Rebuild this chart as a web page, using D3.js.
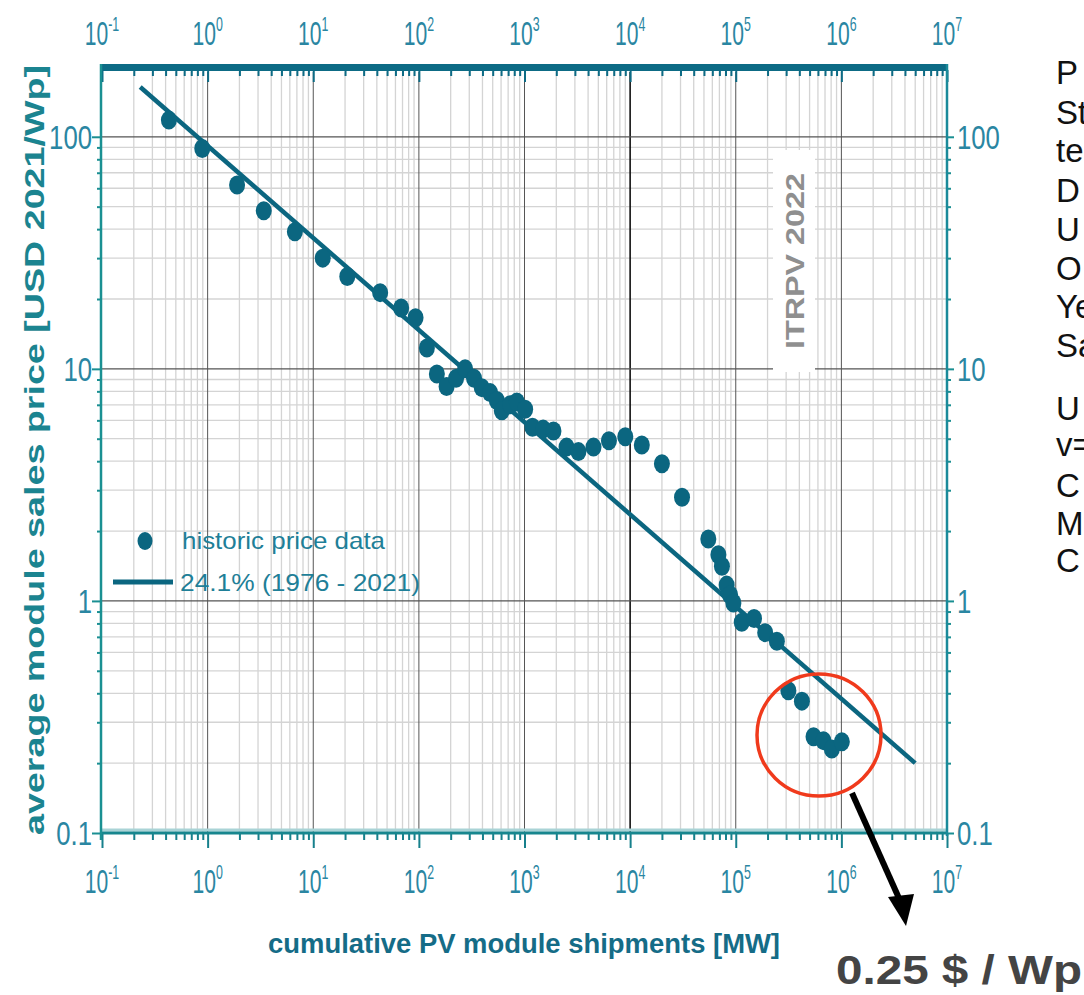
<!DOCTYPE html>
<html>
<head>
<meta charset="utf-8">
<script src="https://cdn.jsdelivr.net/npm/d3@7"></script>
<style>
  html, body { margin: 0; padding: 0; background: #fff; overflow: hidden; }
  svg { display: block; }
</style>
</head>
<body>
<div id="chart"></div>
<script>
// historic price points: cumulative shipments [MW] and price [USD 2021/Wp]
const shipments = [0.43, 0.89, 1.9, 3.4, 6.7, 12.3, 21, 43, 68, 93, 119, 148, 183, 225, 274, 333, 394,
  472, 547, 610, 731, 846, 1014, 1190, 1500, 1880, 2500, 3240, 4500, 6300, 9000, 12900, 20000, 31000,
  55000, 68500, 74000, 82000, 88500, 95000, 114000, 149000, 190000, 245000, 315000, 423000, 545000,
  676000, 812000, 1010000];
const prices = [118, 89, 62, 48, 39, 30, 25, 21.3, 18.3, 16.6, 12.3, 9.5, 8.4, 9.1, 10.0, 9.1, 8.3,
  7.9, 7.3, 6.6, 7.0, 7.2, 6.7, 5.6, 5.5, 5.4, 4.6, 4.4, 4.6, 4.9, 5.1, 4.7, 3.9, 2.8,
  1.85, 1.58, 1.41, 1.17, 1.06, 0.98, 0.81, 0.84, 0.73, 0.67, 0.41, 0.37, 0.26,
  0.25, 0.23, 0.247];

// learning curve fit, 24.1 % (1976 - 2021)
const fitShipments = [0.23, 5000000];
const fitPrices = [164, 0.2];

const xExponents = [-1, 0, 1, 2, 3, 4, 5, 6, 7];
const yTickValues = [0.1, 1, 10, 100];
const yTickLabels = ["0.1", "1", "10", "100"];
const legendLabels = ["historic price data", "24.1% (1976 - 2021)"];
const sideText = ["P", "St", "te", "D", "U", "O", "Ye", "Sa", "U", "v=", "C", "M", "C"];
const sideBaselines = [84, 124, 162, 202, 241, 280, 318, 357, 420, 456, 497, 535, 572];

const W = 1084, H = 995;
const dark = "#0b6680";
const tickBlue = "#2a86a2";

const svg = d3.select("#chart").append("svg")
  .attr("width", W).attr("height", H)
  .style("font-family", "'Liberation Sans', Arial, sans-serif");

const x = d3.scaleLog().domain([0.1, 1e7]).range([102, 947]);
const y = d3.scaleLog().domain([0.1, 194]).range([833, 70]);

const xMajor = xExponents.map(e => Math.pow(10, e));
const xMinor = d3.range(-1, 7).flatMap(e => d3.range(2, 10).map(m => m * Math.pow(10, e)));
const yMinor = d3.range(-1, 2).flatMap(e => d3.range(2, 10).map(m => m * Math.pow(10, e)));

// grid
const grid = svg.append("g");
grid.selectAll(".vmin").data(xMinor).join("line")
  .attr("x1", d => x(d)).attr("x2", d => x(d))
  .attr("y1", 72).attr("y2", 833)
  .attr("stroke", "#d4d4d4").attr("stroke-width", 1.3);
grid.selectAll(".hmin").data(yMinor).join("line")
  .attr("x1", 102).attr("x2", 947)
  .attr("y1", d => y(d)).attr("y2", d => y(d))
  .attr("stroke", "#d4d4d4").attr("stroke-width", 1.3);
grid.selectAll(".vmaj").data(xMajor.slice(1, -1)).join("line")
  .attr("x1", d => x(d)).attr("x2", d => x(d))
  .attr("y1", 72).attr("y2", 833)
  .attr("stroke", d => d === 1e4 ? "#111" : "#555")
  .attr("stroke-width", d => d === 1e4 ? 1.6 : 1);
grid.selectAll(".hmaj").data(yTickValues.slice(1)).join("line")
  .attr("x1", 102).attr("x2", 947)
  .attr("y1", d => y(d)).attr("y2", d => y(d))
  .attr("stroke", "#555").attr("stroke-width", 1.2);

// ITRPV stamp
svg.append("rect").attr("x", 773).attr("y", 150).attr("width", 42).attr("height", 222).attr("fill", "#fff");
svg.append("text")
  .attr("transform", "translate(804,261) rotate(-90)")
  .attr("text-anchor", "middle").attr("font-weight", "bold")
  .attr("font-size", 25).attr("fill", "#8f8f8f")
  .attr("textLength", 176).attr("lengthAdjust", "spacingAndGlyphs")
  .text("ITRPV 2022");

// fit line
svg.append("path")
  .datum(d3.zip(fitShipments, fitPrices))
  .attr("d", d3.line().x(d => x(d[0])).y(d => y(d[1])))
  .attr("fill", "none").attr("stroke", dark).attr("stroke-width", 4.5);

// data points
svg.selectAll(".pt").data(d3.zip(shipments, prices)).join("ellipse")
  .attr("cx", d => x(d[0])).attr("cy", d => y(d[1]))
  .attr("rx", 8).attr("ry", 9.5)
  .attr("fill", dark);

// legend
svg.append("ellipse").attr("cx", 145).attr("cy", 541).attr("rx", 7.5).attr("ry", 9).attr("fill", dark);
svg.append("line").attr("x1", 113).attr("x2", 173).attr("y1", 582).attr("y2", 582)
  .attr("stroke", dark).attr("stroke-width", 5);
svg.selectAll(".leg").data(legendLabels).join("text")
  .attr("x", (d, i) => i ? 180 : 182)
  .attr("y", (d, i) => i ? 591 : 549)
  .attr("font-size", 24).attr("fill", "#1f7f98")
  .attr("textLength", (d, i) => i ? 240 : 203).attr("lengthAdjust", "spacingAndGlyphs")
  .text(d => d);

// top axis bar with hanging ticks
svg.append("rect").attr("x", 100).attr("y", 64).attr("width", 848).attr("height", 7).attr("fill", "#0d6b85");
const topMinor = svg.append("g").attr("transform", "translate(0,70)")
  .call(d3.axisTop(x).tickValues(xMinor).tickSize(-6).tickFormat(""));
const topMajor = svg.append("g").attr("transform", "translate(0,70)")
  .call(d3.axisTop(x).tickValues(xMajor).tickSize(-12).tickFormat(""));
[topMinor, topMajor].forEach(g => {
  g.select(".domain").remove();
  g.selectAll("line").attr("stroke", "#0d6b85").attr("stroke-width", 2);
});

// bottom axis
svg.append("line").attr("x1", 100).attr("x2", 948).attr("y1", 830).attr("y2", 830)
  .attr("stroke", "#a9d3d6").attr("stroke-width", 3);
const botMinor = svg.append("g").attr("transform", "translate(0,833)")
  .call(d3.axisBottom(x).tickValues(xMinor).tickSize(7).tickFormat(""));
const botMajor = svg.append("g").attr("transform", "translate(0,833)")
  .call(d3.axisBottom(x).tickValues(xMajor).tickSize(15).tickFormat(""));
[botMinor, botMajor].forEach(g => {
  g.select(".domain").remove();
  g.selectAll("line").attr("stroke", "#17808c").attr("stroke-width", 2);
});
svg.append("line").attr("x1", 100).attr("x2", 948).attr("y1", 833).attr("y2", 833)
  .attr("stroke", "#17868e").attr("stroke-width", 3);

// left and right axes
const leftMinor = svg.append("g").attr("transform", "translate(101,0)")
  .call(d3.axisLeft(y).tickValues(yMinor).tickSize(4).tickFormat(""));
const leftMajor = svg.append("g").attr("transform", "translate(101,0)")
  .call(d3.axisLeft(y).tickValues(yTickValues).tickSize(9).tickFormat(""));
const rightMinor = svg.append("g").attr("transform", "translate(947,0)")
  .call(d3.axisRight(y).tickValues(yMinor).tickSize(4).tickFormat(""));
const rightMajor = svg.append("g").attr("transform", "translate(947,0)")
  .call(d3.axisRight(y).tickValues(yTickValues).tickSize(7).tickFormat(""));
[leftMinor, leftMajor, rightMinor, rightMajor].forEach(g => {
  g.select(".domain").remove();
  g.selectAll("line").attr("stroke", "#1a8f92").attr("stroke-width", 2);
});
svg.append("line").attr("x1", 101).attr("x2", 101).attr("y1", 64).attr("y2", 840)
  .attr("stroke", "#1a9092").attr("stroke-width", 2.5);
svg.append("line").attr("x1", 947).attr("x2", 947).attr("y1", 64).attr("y2", 836)
  .attr("stroke", "#1a8a9a").attr("stroke-width", 2.5);

// x tick labels, top and bottom (condensed)
[45, 893].forEach(base => {
  const lab = svg.append("g").selectAll("g").data(xExponents).join("g")
    .attr("transform", e => `translate(${x(Math.pow(10, e))},${base}) scale(0.62,1)`);
  const t = lab.append("text").attr("text-anchor", "middle").attr("fill", tickBlue);
  t.append("tspan").attr("font-size", 34).text("10");
  t.append("tspan").attr("font-size", 20).attr("dy", -14).text(e => e);
});

// y tick labels, left and right
svg.append("g").selectAll("text").data(yTickValues).join("text")
  .attr("transform", d => `translate(92,${y(d) + 12}) scale(0.78,1)`)
  .attr("text-anchor", "end").attr("font-size", 33).attr("fill", tickBlue)
  .text((d, i) => yTickLabels[i]);
svg.append("g").selectAll("text").data(yTickValues).join("text")
  .attr("transform", d => `translate(957,${y(d) + 12}) scale(0.78,1)`)
  .attr("text-anchor", "start").attr("font-size", 33).attr("fill", tickBlue)
  .text((d, i) => yTickLabels[i]);

// axis titles
svg.append("text")
  .attr("x", 524).attr("y", 953)
  .attr("text-anchor", "middle").attr("font-weight", "bold")
  .attr("font-size", 27).attr("fill", "#156c87")
  .attr("textLength", 512).attr("lengthAdjust", "spacingAndGlyphs")
  .text("cumulative PV module shipments [MW]");
svg.append("text")
  .attr("transform", "translate(44,450) rotate(-90)")
  .attr("text-anchor", "middle").attr("font-weight", "bold")
  .attr("font-size", 27).attr("fill", "#1b8490")
  .attr("textLength", 770).attr("lengthAdjust", "spacingAndGlyphs")
  .text("average module sales price [USD 2021/Wp]");

// highlight circle and arrow
svg.append("ellipse").attr("cx", 819).attr("cy", 735).attr("rx", 62).attr("ry", 61)
  .attr("fill", "none").attr("stroke", "#f03a1c").attr("stroke-width", 3.5);
svg.append("line").attr("x1", 852).attr("y1", 793).attr("x2", 902).attr("y2", 905)
  .attr("stroke", "#000").attr("stroke-width", 6);
svg.append("path").attr("d", "M888,897 L914,894 L906,926 Z").attr("fill", "#000");

svg.append("text")
  .attr("x", 836).attr("y", 984)
  .attr("font-weight", "bold").attr("font-size", 40).attr("fill", "#444")
  .attr("textLength", 246).attr("lengthAdjust", "spacingAndGlyphs")
  .text("0.25 $ / Wp");

// side text, cut by the page edge as in the source slide
svg.append("g").selectAll("text").data(sideText).join("text")
  .attr("x", 1056).attr("y", (d, i) => sideBaselines[i])
  .attr("font-size", 33).attr("fill", "#111")
  .text(d => d);
</script>
</body>
</html>
